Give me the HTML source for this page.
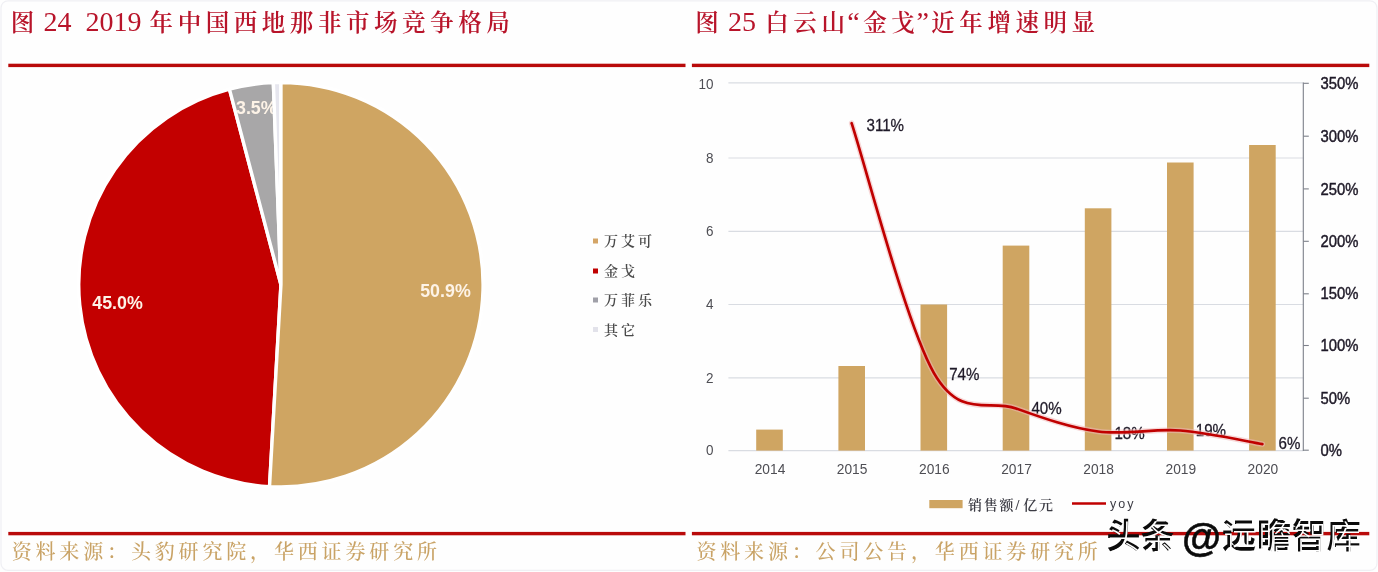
<!DOCTYPE html>
<html lang="zh-CN">
<head>
<meta charset="utf-8">
<title>图 24 / 图 25</title>
<style>
html,body{margin:0;padding:0;background:#fefefe;}
body{width:1378px;height:572px;overflow:hidden;position:relative;font-family:"Liberation Sans","Noto Sans CJK SC",sans-serif;}
svg{position:absolute;left:0;top:0;display:block;}
.title{fill:#b8142a;}
.tc{font-family:"Liberation Serif","Noto Serif CJK SC",serif;font-size:23.5px;font-weight:600;letter-spacing:4.55px;}
.tl{font-family:"Liberation Serif",serif;font-size:28px;letter-spacing:0;}
.src{font-family:"Liberation Serif","Noto Serif CJK SC",serif;font-size:20px;fill:#c9a366;font-weight:500;letter-spacing:3.84px;}
.pl{font-family:"Liberation Sans",sans-serif;font-weight:bold;font-size:18px;fill:#fdf3e7;}
.lg{font-family:"Liberation Serif","Noto Serif CJK SC",serif;font-size:14px;font-weight:600;fill:#4a4a4a;letter-spacing:3px;}
.ax{font-family:"Liberation Sans",sans-serif;font-size:15.3px;fill:#4e4e54;}
.rax{font-family:"Liberation Sans",sans-serif;font-size:16.5px;fill:#1f1a28;stroke:#1f1a28;stroke-width:0.45px;}
.dl{font-family:"Liberation Sans",sans-serif;font-size:16.8px;fill:#1f1a28;stroke:#1f1a28;stroke-width:0.3px;}
.lg2{font-family:"Liberation Serif","Noto Serif CJK SC",serif;font-size:14px;font-weight:600;fill:#3c3c44;letter-spacing:1.8px;}
.sl{letter-spacing:4px;}
.yoy{font-family:"Liberation Sans",sans-serif;font-size:12.5px;fill:#3c3c44;letter-spacing:2px;}
.wm{font-family:"Liberation Sans","Noto Sans CJK SC",sans-serif;font-size:34px;}
.wmb{fill:#0b0b0b;font-weight:700;}
.wmw{fill:#ffffff;font-weight:300;}
</style>
</head>
<body>
<svg width="1378" height="572" viewBox="0 0 1378 572">
<rect x="0" y="0" width="1378" height="572" fill="#fefefe"/>
<rect x="1" y="0.8" width="1376" height="569.5" rx="7" ry="7" fill="none" stroke="#f0f0f4" stroke-width="1.3"/>
<!-- left figure -->
<text y="31.3" class="title"><tspan x="10.8" class="tc">图</tspan><tspan x="43.5" class="tl">24</tspan><tspan x="85.5" class="tl">2019</tspan><tspan x="149.6" class="tc">年中国西地那非市场竞争格局</tspan></text>
<rect x="8.3" y="63.7" width="677.2" height="3.4" fill="#b90a0a"/>
<path d="M280.95,284.70 L269.52,486.58 A202.2,202.2 0 0 1 229.44,89.17 Z" fill="#c30000" stroke="#ffffff" stroke-width="3.4" stroke-linejoin="round"/>
<path d="M280.95,284.70 L229.44,89.17 A202.2,202.2 0 0 1 273.33,82.64 Z" fill="#a8a7a8" stroke="#ffffff" stroke-width="3.4" stroke-linejoin="round"/>
<text transform="translate(236,113.8) scale(0.99,1)" text-anchor="start" class="pl">3.5%</text>
<path d="M280.95,284.70 L273.33,82.64 A202.2,202.2 0 0 1 280.95,82.50 Z" fill="#e6e6ee" stroke="#ffffff" stroke-width="3.4" stroke-linejoin="round"/>
<path d="M280.95,284.70 L280.95,82.50 A202.2,202.2 0 1 1 269.52,486.58 Z" fill="#cfa562" stroke="#ffffff" stroke-width="3.4" stroke-linejoin="round"/>
<text transform="translate(92.3,308.6) scale(0.99,1)" text-anchor="start" class="pl">45.0%</text>
<text transform="translate(420.2,297.4) scale(0.99,1)" text-anchor="start" class="pl">50.9%</text>

<rect x="593" y="238.5" width="5" height="5" fill="#d4a566"/>
<text x="604" y="246" class="lg">万艾可</text>
<rect x="593" y="268.5" width="5" height="5" fill="#c00000"/>
<text x="604" y="276" class="lg">金戈</text>
<rect x="593" y="297.5" width="5" height="5" fill="#a0a0a8"/>
<text x="604" y="305" class="lg">万菲乐</text>
<rect x="593" y="327" width="5" height="5" fill="#e2e2ea"/>
<text x="604" y="334.5" class="lg">其它</text>
<rect x="8.3" y="531.9" width="677.2" height="3.4" fill="#b90a0a"/>
<rect x="691.9" y="531.9" width="677.4" height="3.4" fill="#b90a0a"/>
<text x="11.7" y="559" class="src">资料来源：头豹研究院，华西证券研究所</text>
<!-- right figure -->
<text y="31.3" class="title"><tspan x="695.3" class="tc">图</tspan><tspan x="728" class="tl">25</tspan><tspan x="765.3" class="tc">白云山</tspan><tspan x="847.2" class="tl">“</tspan><tspan x="863.2" class="tc">金戈</tspan><tspan x="916.5" class="tl">”</tspan><tspan x="931.3" class="tc">近年增速明显</tspan></text>
<rect x="691.9" y="63.7" width="677.4" height="3.4" fill="#b90a0a"/>
<line x1="728.4" y1="450.6" x2="1303.3" y2="450.6" stroke="#d9dce2" stroke-width="1.2"/>
<text transform="translate(713.5,455.2) scale(0.88,1)" text-anchor="end" class="ax">0</text>
<line x1="728.4" y1="377.9" x2="1303.3" y2="377.9" stroke="#d9dce2" stroke-width="1.2"/>
<text transform="translate(713.5,382.5) scale(0.88,1)" text-anchor="end" class="ax">2</text>
<line x1="728.4" y1="304.5" x2="1303.3" y2="304.5" stroke="#d9dce2" stroke-width="1.2"/>
<text transform="translate(713.5,309.1) scale(0.88,1)" text-anchor="end" class="ax">4</text>
<line x1="728.4" y1="231.3" x2="1303.3" y2="231.3" stroke="#d9dce2" stroke-width="1.2"/>
<text transform="translate(713.5,235.9) scale(0.88,1)" text-anchor="end" class="ax">6</text>
<line x1="728.4" y1="158.0" x2="1303.3" y2="158.0" stroke="#d9dce2" stroke-width="1.2"/>
<text transform="translate(713.5,162.6) scale(0.88,1)" text-anchor="end" class="ax">8</text>
<line x1="728.4" y1="82.9" x2="1303.3" y2="82.9" stroke="#d9dce2" stroke-width="1.2"/>
<text transform="translate(713.5,88.9) scale(0.88,1)" text-anchor="end" class="ax">10</text>

<rect x="756.2" y="429.6" width="26.6" height="21.0" fill="#cfa562"/>
<rect x="838.4" y="366.0" width="26.6" height="84.6" fill="#cfa562"/>
<rect x="920.5" y="304.5" width="26.6" height="146.1" fill="#cfa562"/>
<rect x="1002.7" y="245.6" width="26.6" height="205.0" fill="#cfa562"/>
<rect x="1084.8" y="208.3" width="26.6" height="242.3" fill="#cfa562"/>
<rect x="1167.0" y="162.5" width="26.6" height="288.1" fill="#cfa562"/>
<rect x="1249.1" y="145.0" width="26.6" height="305.6" fill="#cfa562"/>

<line x1="1303.3" y1="82.6" x2="1303.3" y2="451.0" stroke="#7d808a" stroke-width="1.1"/>
<line x1="1303.3" y1="450.2" x2="1308.8" y2="450.2" stroke="#7d808a" stroke-width="1.1"/>
<text transform="translate(1320.5,455.8) scale(0.9,1)" text-anchor="start" class="rax">0%</text>
<line x1="1303.3" y1="398.2" x2="1308.8" y2="398.2" stroke="#7d808a" stroke-width="1.1"/>
<text transform="translate(1320.5,403.8) scale(0.9,1)" text-anchor="start" class="rax">50%</text>
<line x1="1303.3" y1="345.5" x2="1308.8" y2="345.5" stroke="#7d808a" stroke-width="1.1"/>
<text transform="translate(1320.5,351.1) scale(0.9,1)" text-anchor="start" class="rax">100%</text>
<line x1="1303.3" y1="293.8" x2="1308.8" y2="293.8" stroke="#7d808a" stroke-width="1.1"/>
<text transform="translate(1320.5,299.4) scale(0.9,1)" text-anchor="start" class="rax">150%</text>
<line x1="1303.3" y1="241.3" x2="1308.8" y2="241.3" stroke="#7d808a" stroke-width="1.1"/>
<text transform="translate(1320.5,246.9) scale(0.9,1)" text-anchor="start" class="rax">200%</text>
<line x1="1303.3" y1="188.9" x2="1308.8" y2="188.9" stroke="#7d808a" stroke-width="1.1"/>
<text transform="translate(1320.5,194.5) scale(0.9,1)" text-anchor="start" class="rax">250%</text>
<line x1="1303.3" y1="136.2" x2="1308.8" y2="136.2" stroke="#7d808a" stroke-width="1.1"/>
<text transform="translate(1320.5,141.8) scale(0.9,1)" text-anchor="start" class="rax">300%</text>
<line x1="1303.3" y1="83.3" x2="1308.8" y2="83.3" stroke="#7d808a" stroke-width="1.1"/>
<text transform="translate(1320.5,88.9) scale(0.9,1)" text-anchor="start" class="rax">350%</text>

<text transform="translate(770.0,474.4) scale(0.9,1)" text-anchor="middle" class="ax cat">2014</text>
<text transform="translate(852.1,474.4) scale(0.9,1)" text-anchor="middle" class="ax cat">2015</text>
<text transform="translate(934.3,474.4) scale(0.9,1)" text-anchor="middle" class="ax cat">2016</text>
<text transform="translate(1016.5,474.4) scale(0.9,1)" text-anchor="middle" class="ax cat">2017</text>
<text transform="translate(1098.6,474.4) scale(0.9,1)" text-anchor="middle" class="ax cat">2018</text>
<text transform="translate(1180.8,474.4) scale(0.9,1)" text-anchor="middle" class="ax cat">2019</text>
<text transform="translate(1262.9,474.4) scale(0.9,1)" text-anchor="middle" class="ax cat">2020</text>

<text transform="translate(866.5,131.3) scale(0.9,1)" text-anchor="start" class="dl">311%</text>
<text transform="translate(949.2,379.6) scale(0.9,1)" text-anchor="start" class="dl">74%</text>
<text transform="translate(1031.4,414.1) scale(0.9,1)" text-anchor="start" class="dl">40%</text>
<text transform="translate(1114.4,438.5) scale(0.9,1)" text-anchor="start" class="dl">18%</text>
<text transform="translate(1195.8,436) scale(0.9,1)" text-anchor="start" class="dl">19%</text>
<text transform="translate(1278.5,449) scale(0.9,1)" text-anchor="start" class="dl">6%</text>

<path d="M851.6,123.2 C865.3,164.8 906.4,325.2 933.8,372.8 C961.2,420.3 988.6,398.6 1016.0,408.4 C1043.3,418.2 1070.7,427.8 1098.1,431.5 C1125.5,435.2 1152.9,428.4 1180.2,430.5 C1207.6,432.6 1248.7,441.8 1262.4,444.1" fill="none" stroke="#f0b8b8" stroke-width="5.5" stroke-linecap="round" opacity="0.55"/>
<path d="M851.6,123.2 C865.3,164.8 906.4,325.2 933.8,372.8 C961.2,420.3 988.6,398.6 1016.0,408.4 C1043.3,418.2 1070.7,427.8 1098.1,431.5 C1125.5,435.2 1152.9,428.4 1180.2,430.5 C1207.6,432.6 1248.7,441.8 1262.4,444.1" fill="none" stroke="#c00000" stroke-width="2.7" stroke-linecap="round"/>
<rect x="929.3" y="500" width="33.3" height="8.2" fill="#cfa562"/>
<text x="968" y="509.6" class="lg2">销售额<tspan class="sl">/</tspan>亿元</text>
<line x1="1072" y1="503.5" x2="1106" y2="503.5" stroke="#c00000" stroke-width="2.6"/>
<text x="1110" y="508.2" class="yoy">yoy</text>
<text x="696.4" y="559" class="src">资料来源：公司公告，华西证券研究所</text>
<g class="wm">
<text y="548.4" class="wmb"><tspan x="1106.4">头条</tspan><tspan x="1182.1" y="550.6" font-size="40" font-weight="700" stroke="#0b0b0b" stroke-width="0.5">@</tspan><tspan x="1222.1" y="548.4" letter-spacing="0.9">远瞻智库</tspan></text>
<text y="550.4" class="wmw"><tspan x="1107.8">头条</tspan><tspan x="1223.5" y="550.4" letter-spacing="0.9">远瞻智库</tspan></text>
</g>
</svg>
</body>
</html>
